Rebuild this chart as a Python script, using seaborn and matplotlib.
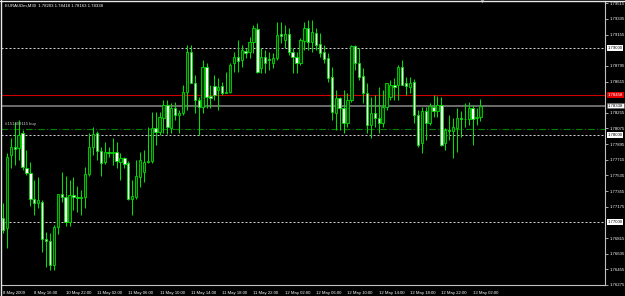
import matplotlib
matplotlib.use("Agg")
import matplotlib.pyplot as plt
from matplotlib.lines import Line2D
from matplotlib import font_manager
import numpy as np
import pandas as pd
import seaborn as sns

# ---------------- data ----------------
symbol_header = "EURAUDm,M30  1.78203 1.78418 1.78163 1.78338"

opens = [1.77046, 1.76931, 1.77770, 1.77862, 1.77851, 1.78023, 1.77621, 1.77563, 1.77264, 1.77218,
         1.77230, 1.76804, 1.76781, 1.76505, 1.76942, 1.77322, 1.77287, 1.77000, 1.77310, 1.77287,
         1.77276, 1.77287, 1.77552, 1.77862, 1.78023, 1.77816, 1.77690, 1.77805, 1.77793, 1.77805,
         1.77690, 1.77736, 1.77678, 1.77264, 1.77287, 1.77517, 1.77575, 1.77690, 1.77701, 1.78081,
         1.78035, 1.78196, 1.78345, 1.78081, 1.78311, 1.78230, 1.78253, 1.78495, 1.78955, 1.78598,
         1.78403, 1.78322, 1.78782, 1.78449, 1.78564, 1.78518, 1.78564, 1.78483, 1.78495, 1.78828,
         1.78897, 1.78863, 1.78966, 1.78955, 1.79070, 1.79219, 1.78771, 1.78897, 1.78874, 1.78828,
         1.78886, 1.79162, 1.79093, 1.79162, 1.78955, 1.78897, 1.78828, 1.79081, 1.79231, 1.79070,
         1.79173, 1.79047, 1.78955, 1.78886, 1.78667, 1.78253, 1.78426, 1.78311, 1.78138, 1.78403,
         1.79024, 1.78828, 1.78679, 1.78483, 1.78115, 1.78253, 1.78196, 1.78138, 1.78322, 1.78437,
         1.78575, 1.78575, 1.78782, 1.78598, 1.78552, 1.78610, 1.78230, 1.77908, 1.78276, 1.78138,
         1.78322, 1.78276, 1.78345, 1.77908, 1.78058, 1.78046, 1.78081, 1.78196, 1.78184, 1.78184,
         1.78311, 1.78196, 1.78203]
highs = [1.77218, 1.77793, 1.77966, 1.78150, 1.78173, 1.78058, 1.77828, 1.77690, 1.77483, 1.77517,
         1.77253, 1.76885, 1.76873, 1.76965, 1.77322, 1.77575, 1.77529, 1.77483, 1.77517, 1.77414,
         1.77368, 1.77632, 1.78023, 1.78092, 1.78046, 1.77862, 1.77920, 1.77862, 1.77966, 1.77920,
         1.77793, 1.77747, 1.77701, 1.77483, 1.77713, 1.77805, 1.77828, 1.78092, 1.78265, 1.78265,
         1.78265, 1.78403, 1.78403, 1.78368, 1.78380, 1.78288, 1.78575, 1.79035, 1.79035, 1.78690,
         1.78437, 1.78863, 1.78828, 1.78575, 1.78690, 1.78656, 1.78610, 1.78725, 1.78828, 1.78955,
         1.79093, 1.79035, 1.79001, 1.79127, 1.79265, 1.79288, 1.79001, 1.78978, 1.78955, 1.78943,
         1.79300, 1.79300, 1.79265, 1.79231, 1.79001, 1.78955, 1.79116, 1.79300, 1.79323, 1.79323,
         1.79231, 1.79173, 1.79035, 1.78943, 1.78782, 1.78518, 1.78437, 1.78518, 1.78483, 1.79035,
         1.79035, 1.79001, 1.78771, 1.78598, 1.78437, 1.78460, 1.78552, 1.78518, 1.78598, 1.78633,
         1.78656, 1.78805, 1.78863, 1.78667, 1.78667, 1.78644, 1.78288, 1.78322, 1.78322, 1.78368,
         1.78460, 1.78449, 1.78437, 1.78081, 1.78230, 1.78196, 1.78311, 1.78276, 1.78368, 1.78380,
         1.78345, 1.78311, 1.78418]
lows = [1.76873, 1.76701, 1.77621, 1.77655, 1.77713, 1.77598, 1.77540, 1.77184, 1.77080, 1.77161,
        1.76655, 1.76482, 1.76448, 1.76448, 1.76862, 1.77230, 1.76954, 1.76954, 1.77138, 1.77115,
        1.77080, 1.77161, 1.77529, 1.77770, 1.77713, 1.77529, 1.77667, 1.77747, 1.77655, 1.77621,
        1.77483, 1.77621, 1.77253, 1.77080, 1.77264, 1.77402, 1.77460, 1.77678, 1.77678, 1.77885,
        1.78000, 1.78023, 1.78012, 1.78023, 1.78173, 1.78023, 1.78230, 1.78288, 1.78598, 1.78253,
        1.78000, 1.78253, 1.78311, 1.78311, 1.78403, 1.78288, 1.78460, 1.78483, 1.78483, 1.78725,
        1.78725, 1.78782, 1.78886, 1.78886, 1.78943, 1.78713, 1.78713, 1.78713, 1.78748, 1.78771,
        1.78863, 1.79058, 1.79001, 1.78920, 1.78713, 1.78713, 1.78805, 1.78978, 1.78978, 1.78955,
        1.78978, 1.78897, 1.78828, 1.78610, 1.78173, 1.78058, 1.78058, 1.78023, 1.78092, 1.78380,
        1.78748, 1.78633, 1.78368, 1.78023, 1.77966, 1.78092, 1.78023, 1.78092, 1.78288, 1.78403,
        1.78403, 1.78403, 1.78575, 1.78460, 1.78483, 1.78138, 1.77862, 1.77793, 1.77943, 1.78115,
        1.78207, 1.78207, 1.77874, 1.77828, 1.77943, 1.77736, 1.77805, 1.77977, 1.78092, 1.78115,
        1.77885, 1.78115, 1.78163]
closes = [1.76908, 1.77747, 1.77862, 1.77839, 1.78000, 1.77632, 1.77563, 1.77264, 1.77218, 1.77253,
          1.76804, 1.76781, 1.76505, 1.76942, 1.77322, 1.77287, 1.77000, 1.77310, 1.77287, 1.77276,
          1.77287, 1.77552, 1.77862, 1.78012, 1.77816, 1.77678, 1.77805, 1.77793, 1.77805, 1.77701,
          1.77736, 1.77667, 1.77264, 1.77299, 1.77529, 1.77713, 1.77690, 1.77701, 1.78081, 1.78035,
          1.78207, 1.78345, 1.78092, 1.78311, 1.78230, 1.78253, 1.78495, 1.78955, 1.78598, 1.78403,
          1.78322, 1.78782, 1.78437, 1.78426, 1.78460, 1.78552, 1.78483, 1.78495, 1.78805, 1.78897,
          1.78851, 1.78978, 1.78943, 1.79070, 1.79231, 1.78725, 1.78897, 1.78828, 1.78863, 1.78886,
          1.79150, 1.79139, 1.79162, 1.78955, 1.78897, 1.78828, 1.79093, 1.79231, 1.79070, 1.79185,
          1.79035, 1.78943, 1.78874, 1.78656, 1.78265, 1.78426, 1.78311, 1.78138, 1.78403, 1.79024,
          1.78828, 1.78667, 1.78483, 1.78115, 1.78253, 1.78196, 1.78138, 1.78322, 1.78598, 1.78575,
          1.78552, 1.78782, 1.78575, 1.78564, 1.78598, 1.78230, 1.77885, 1.78276, 1.78138, 1.78334,
          1.78276, 1.78345, 1.77885, 1.78058, 1.78046, 1.78092, 1.78196, 1.78184, 1.78184, 1.78311,
          1.78184, 1.78207, 1.78338]

time_labels = ["8 May 2009", "8 May 16:00", "10 May 22:00", "11 May 02:00", "11 May 06:00",
               "11 May 10:00", "11 May 14:00", "11 May 18:00", "11 May 22:00", "12 May 02:00",
               "12 May 06:00", "12 May 10:00", "12 May 14:00", "12 May 18:00", "12 May 22:00",
               "13 May 02:00"]
bars_per_label = 8

price_ticks = [1.76275, 1.76455, 1.76635, 1.76815, 1.77175, 1.77355, 1.77535, 1.77715,
               1.77895, 1.78075, 1.78255, 1.78615, 1.78795, 1.79155, 1.79335, 1.79515]
level_lines = [1.79000, 1.78000, 1.77000]
ask_price = 1.78458
bid_price = 1.78338
order_price = 1.78069
order_text = "#151409115 buy"

# ---------------- style ----------------
sns.set_theme(style="dark", rc={
    "axes.facecolor": "black", "figure.facecolor": "black",
    "axes.grid": False, "axes.edgecolor": "#c0c0c0",
    "text.color": "white", "xtick.color": "#c0c0c0", "ytick.color": "#c0c0c0",
})
names = {f.name for f in font_manager.fontManager.ttflist}
if "Liberation Sans Narrow" in names:
    plt.rcParams["font.family"] = ["Liberation Sans Narrow", "DejaVu Sans"]
    FS = 3.7
else:
    plt.rcParams["font.family"] = ["Liberation Sans", "DejaVu Sans"]
    FS = 3.05

W, H = 625, 296
fig = plt.figure(figsize=(W / 100, H / 100), dpi=100)
ax = fig.add_axes([1 / W, 11 / H, 604 / W, 284 / H])
ax.set_facecolor("black")

df = pd.DataFrame({"open": opens, "high": highs, "low": lows, "close": closes})
df["x"] = np.arange(len(df))
df["bull"] = df["close"] >= df["open"]
df["bottom"] = df[["open", "close"]].min(axis=1)
df["height"] = (df["close"] - df["open"]).abs().clip(lower=0.00003)

wick_col = "#00e000"
ax.vlines(df["x"], df["low"], df["high"], color=wick_col, lw=0.75, zorder=3)
bull = df[df["bull"]]
bear = df[~df["bull"]]
ax.bar(bull["x"], bull["height"], bottom=bull["bottom"], width=0.6,
       color="#003800", edgecolor=wick_col, lw=0.6, zorder=4)
ax.bar(bear["x"], bear["height"], bottom=bear["bottom"], width=0.6,
       color="white", edgecolor=wick_col, lw=0.6, zorder=4)

# horizontal lines
for lv in level_lines:
    ax.axhline(lv, color="#d0d0d0", lw=0.72, ls=(0, (2, 2)), zorder=2)
ax.axhline(ask_price, color="#d00000", lw=0.8, zorder=2)
ax.axhline(bid_price, color="#8a8a8a", lw=1.1, zorder=2)
ax.axhline(order_price, color="#008000", lw=0.8, ls=(0, (6, 2, 1, 2)), zorder=2)
ax.annotate(order_text, xy=(0, order_price), xycoords=("axes fraction", "data"),
            xytext=(3, 2), textcoords="offset points", fontsize=FS,
            color="#c8c8c8", va="bottom", ha="left")

ax.set_xlim(-0.51, 153.81)
ax.set_ylim(1.76275, 1.79541)

# chart-shift marker at the top of the window
ax.plot([len(df) - 0.5], [1], transform=ax.get_xaxis_transform(), marker="v",
        ms=3, color="#808080", mec="none", clip_on=False, zorder=6)

# axes ticks
ax.yaxis.tick_right()
ax.set_yticks(price_ticks)
ax.set_yticklabels([f"{p:.5f}" for p in price_ticks])
ax.tick_params(axis="y", which="major", length=2, width=0.6, pad=1,
               labelsize=FS, labelcolor="white", direction="out")
xt = np.arange(len(time_labels)) * bars_per_label
ax.set_xticks(xt)
ax.set_xticklabels(time_labels)
ax.tick_params(axis="x", which="major", length=3, width=0.6, pad=1,
               labelsize=FS, labelcolor="white", direction="out")
for lbl in ax.get_xticklabels():
    lbl.set_horizontalalignment("left")

for side in ["top", "left"]:
    ax.spines[side].set_visible(False)
for side in ["right", "bottom"]:
    ax.spines[side].set_color("#c0c0c0")
    ax.spines[side].set_linewidth(0.8)

# price boxes on the right scale
ytr = ax.get_yaxis_transform()
box_kw = dict(transform=ytr, fontsize=FS, ha="left", va="center", zorder=10, clip_on=False)
for lv in level_lines:
    ax.text(1.004, lv, f"{lv:.5f}", color="black",
            bbox=dict(boxstyle="square,pad=0.2", fc="white", ec="none"), **box_kw)
ax.text(1.004, ask_price, f"{ask_price:.5f}", color="white",
        bbox=dict(boxstyle="square,pad=0.2", fc="#e00000", ec="none"), **box_kw)
ax.text(1.004, bid_price, f"{bid_price:.5f}", color="black",
        bbox=dict(boxstyle="square,pad=0.2", fc="white", ec="#606060", lw=0.4), **box_kw)

# header
fig.text(5 / W, 1 - 6 / H, symbol_header, fontsize=FS, color="white", ha="left", va="center")

# window frame (top and left)
fig.add_artist(Line2D([0, 1], [1 - 0.6 / H, 1 - 0.6 / H], transform=fig.transFigure, color="#e8e8e8", lw=1.0))
fig.add_artist(Line2D([0.6 / W, 0.6 / W], [0, 1], transform=fig.transFigure, color="#e8e8e8", lw=1.0))

fig.savefig("out.png", dpi=100, facecolor="black")
